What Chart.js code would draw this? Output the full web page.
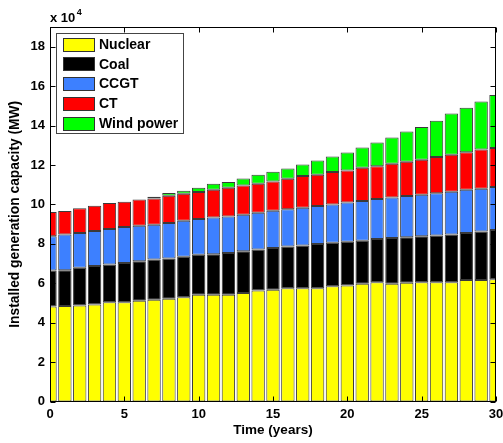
<!DOCTYPE html>
<html>
<head>
<meta charset="utf-8">
<script src="https://cdn.jsdelivr.net/npm/chart.js@4/dist/chart.umd.min.js"></script>
<style>
  html, body { margin: 0; padding: 0; background: #fff; }
  #wrap { width: 503px; height: 443px; position: relative; }
</style>
</head>
<body>
<div id="wrap"><canvas id="c"></canvas></div>
<script>
// Years on the horizontal axis
const years = [0, 1, 2, 3, 4, 5, 6, 7, 8, 9, 10, 11, 12, 13, 14, 15,
               16, 17, 18, 19, 20, 21, 22, 23, 24, 25, 26, 27, 28, 29, 30];

// Installed capacity by technology (MW)
const nuclear = [48200, 48400, 48700, 49200, 50400, 50400, 51100, 51600, 52100, 52900,
                 54100, 54100, 54100, 55100, 56300, 56700, 57500, 57500, 57500, 58500,
                 58800, 59700, 60500, 59700, 60200, 60500, 60500, 60500, 61700, 61700, 62000];
const coal    = [18200, 18200, 19100, 19600, 19100, 19900, 20000, 20400, 20400, 20500,
                 20300, 20600, 21300, 21100, 20800, 21200, 21100, 21600, 22400, 22000,
                 22300, 21900, 22000, 23300, 23100, 23300, 23700, 24200, 23800, 24600, 25000];
const ccgt    = [17400, 18100, 17700, 17700, 18000, 18200, 18100, 17700, 18100, 18300,
                 18200, 18700, 18500, 18600, 18700, 18900, 18900, 19200, 19300, 19500,
                 19800, 20100, 20200, 20500, 21000, 21100, 21400, 21700, 21900, 21600, 21800];
const ct      = [12300, 11900, 12500, 12800, 13200, 12900, 13300, 13300, 13800, 13700,
                 13700, 14000, 14600, 14800, 14700, 14800, 15500, 16100, 15800, 16400,
                 16300, 16900, 16700, 17100, 17300, 17700, 18400, 18800, 19100, 19900, 19800];
const wind    = [0, 0, 0, 0, 0, 0, 0, 900, 1400, 1500,
                 2200, 3100, 2800, 3600, 4500, 4900, 5200, 5900, 7300, 7900,
                 9100, 10300, 12000, 13300, 15400, 16700, 18400, 20900, 22500, 24400, 26900];

const seriesNames  = ['Nuclear', 'Coal', 'CCGT', 'CT', 'Wind power'];
const seriesColors = ['#ffff00', '#000000', '#3d80ff', '#ff0000', '#00ff00'];
const seriesData   = [nuclear, coal, ccgt, ct, wind];

// Tick positions
const xTicks = [0, 5, 10, 15, 20, 25, 30];
const yTicks = [0, 20000, 40000, 60000, 80000, 100000, 120000, 140000, 160000, 180000];
const yMax = 190000;

const FONT = '"Liberation Sans", Arial, Helvetica, sans-serif';

// Box frame, inward tick marks on all four sides, exponent note and legend
const framePlugin = {
  id: 'frame',
  afterDraw(chart) {
    const { ctx, chartArea: a, scales: { x, y } } = chart;
    const L = Math.round(a.left) + 0.5, R = Math.round(a.right) - 0.5;
    const T = Math.round(a.top) + 0.5, B = Math.round(a.bottom) - 0.5;
    const tl = 5;
    ctx.save();
    ctx.strokeStyle = '#000';
    ctx.lineWidth = 1;
    ctx.strokeRect(L, T, R - L, B - T);
    ctx.beginPath();
    x.ticks.forEach(t => {
      const px = Math.round(x.getPixelForValue(t.value)) + 0.5;
      ctx.moveTo(px, B); ctx.lineTo(px, B - tl);
      ctx.moveTo(px, T); ctx.lineTo(px, T + tl);
    });
    y.ticks.forEach(t => {
      const py = Math.round(y.getPixelForValue(t.value)) + 0.5;
      ctx.moveTo(L, py); ctx.lineTo(L + tl, py);
      ctx.moveTo(R, py); ctx.lineTo(R - tl, py);
    });
    ctx.stroke();

    // "x 10^4" scale note above the value axis
    ctx.fillStyle = '#000';
    ctx.textBaseline = 'alphabetic';
    ctx.textAlign = 'left';
    ctx.font = 'bold 13px ' + FONT;
    ctx.fillText('x 10', a.left, 22);
    const w = ctx.measureText('x 10').width;
    ctx.font = 'bold 9px ' + FONT;
    ctx.fillText('4', a.left + w + 1.5, 15);

    // Legend
    const bx = 56.5, by = 33.5, bw = 127, bh = 100;
    ctx.fillStyle = '#fff';
    ctx.fillRect(bx, by, bw, bh);
    ctx.strokeStyle = '#444';
    ctx.strokeRect(bx, by, bw, bh);
    chart.data.datasets.forEach((ds, i) => {
      const cy = 44.5 + i * 19.75;
      ctx.fillStyle = ds.backgroundColor;
      ctx.fillRect(63, Math.round(cy - 7), 32, 14);
      ctx.strokeStyle = '#333';
      ctx.strokeRect(63.5, Math.round(cy - 7) + 0.5, 31, 13);
      ctx.fillStyle = '#000';
      ctx.font = 'bold 14px ' + FONT;
      ctx.textBaseline = 'middle';
      ctx.fillText(ds.label, 99, cy + 0.5);
    });
    ctx.restore();
  }
};

new Chart(document.getElementById('c'), {
  type: 'bar',
  data: {
    labels: years,
    datasets: seriesData.map((d, i) => ({
      label: seriesNames[i],
      data: d,
      backgroundColor: seriesColors[i],
      borderColor: '#3a3a3a',
      borderWidth: 1,
      borderSkipped: false,
      barPercentage: 0.9,
      categoryPercentage: 1.0,
      clip: 0
    }))
  },
  options: {
    responsive: true,
    maintainAspectRatio: false,
    animation: false,
    devicePixelRatio: 1,
    layout: { padding: { top: 27, right: 0, left: 0, bottom: 0 } },
    plugins: { legend: { display: false }, tooltip: { enabled: false } },
    scales: {
      x: {
        type: 'linear',
        stacked: true,
        min: 0, max: 30,
        offset: false,
        grid: { display: false, drawTicks: false, offset: false },
        border: { display: false },
        ticks: {
          color: '#000',
          font: { family: FONT, size: 13, weight: 'bold' },
          padding: 5,
          maxRotation: 0
        },
        afterBuildTicks(scale) { scale.ticks = xTicks.map(v => ({ value: v })); },
        title: {
          display: true,
          text: 'Time (years)',
          color: '#000',
          font: { family: FONT, size: 13.5, weight: 'bold' },
          padding: { top: 0, bottom: 5 }
        },
        afterFit(scale) {
          scale.height = 41.5;
          scale.paddingLeft = 0;
          scale.paddingRight = 7;
        }
      },
      y: {
        stacked: true,
        min: 0, max: yMax,
        grid: { display: false, drawTicks: false },
        border: { display: false },
        ticks: {
          color: '#000',
          font: { family: FONT, size: 13, weight: 'bold' },
          padding: 5,
          callback: v => String(v / 10000)
        },
        afterBuildTicks(scale) { scale.ticks = yTicks.map(v => ({ value: v })); },
        title: {
          display: true,
          text: 'Installed generation capacity (MW)',
          color: '#000',
          font: { family: FONT, size: 13.8, weight: 'bold' },
          padding: { top: 7, bottom: 0 }
        },
        afterFit(scale) { scale.width = 50; }
      }
    }
  },
  plugins: [framePlugin]
});
</script>
</body>
</html>
